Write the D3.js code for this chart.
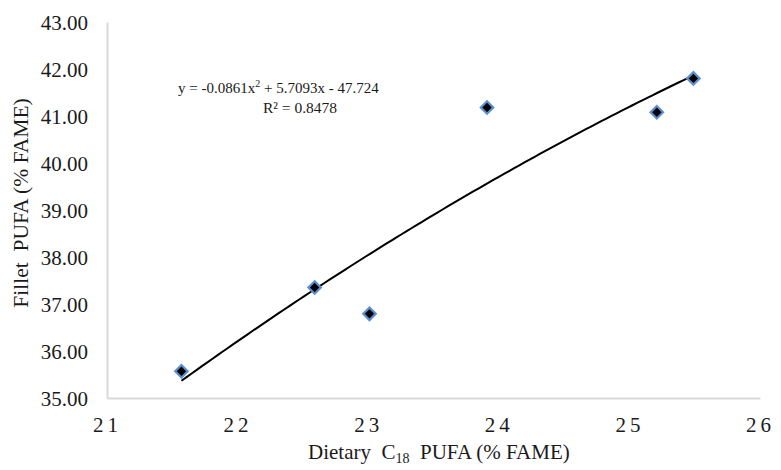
<!DOCTYPE html>
<html>
<head>
<meta charset="utf-8">
<script src="https://cdn.jsdelivr.net/npm/d3@7"></script>
<style>
  html, body { margin: 0; padding: 0; background: #fff; }
  svg { display: block; }
  svg text { font-family: "Liberation Serif", "Times New Roman", Tinos, "DejaVu Serif", serif; fill: #1a1a1a; white-space: pre; }
</style>
</head>
<body>
<svg id="chart" width="781" height="470"></svg>
<script>
// Dietary C18 PUFA vs fillet PUFA (% FAME)
const dietaryC18 = [21.57, 22.59, 23.01, 23.91, 25.21, 25.49];
const filletPUFA = [35.57, 37.35, 36.79, 41.18, 41.08, 41.80];

// Polynomial (order 2) trendline coefficients
const trendA = -0.0861, trendB = 5.7093, trendC = -47.724;
const rSquared = 0.8478;

const xTicks = [21, 22, 23, 24, 25, 26];
const yTicks = [35, 36, 37, 38, 39, 40, 41, 42, 43];

const serif = '"Liberation Serif", "Times New Roman", Tinos, "DejaVu Serif", serif';

const svg = d3.select("#chart").attr("font-family", serif);
const plotLeft = 107, plotRight = 760, plotTop = 22, plotBottom = 398;

const x = d3.scaleLinear().domain([21, 26]).range([plotLeft, plotRight]);
const y = d3.scaleLinear().domain([35, 43]).range([plotBottom, plotTop]);

// Axes: plain light-grey lines, no tick marks
const xAxis = d3.axisBottom(x).tickValues(xTicks).tickSize(0).tickPadding(0).tickFormat(d3.format("d"));
const yAxis = d3.axisLeft(y).tickValues(yTicks).tickSize(0).tickPadding(0).tickFormat(d3.format(".2f"));

const gx = svg.append("g").attr("transform", `translate(0,${plotBottom})`).call(xAxis)
  .attr("font-family", serif);
gx.select(".domain").attr("stroke", "#d9d9d9").attr("stroke-width", 2);
gx.selectAll("text")
  .attr("dy", null).attr("y", 34)
  .attr("font-size", 21).attr("letter-spacing", 4)
  .style("font-family", serif)
  .attr("fill", "#1a1a1a");

const gy = svg.append("g").attr("transform", `translate(${plotLeft},0)`).call(yAxis)
  .attr("font-family", serif);
gy.select(".domain").attr("stroke", "#d9d9d9").attr("stroke-width", 2);
gy.selectAll("text")
  .attr("x", -19).attr("dy", "0.34em")
  .attr("font-size", 21)
  .style("font-family", serif)
  .attr("fill", "#1a1a1a");

// Trendline from the fitted equation, spanning the observed range
const xMin = d3.min(dietaryC18), xMax = d3.max(dietaryC18);
const xs = d3.range(0, 101).map(i => xMin + i / 100 * (xMax - xMin));
const line = d3.line().x(d => x(d)).y(d => y(trendA * d * d + trendB * d + trendC));
svg.append("path")
  .datum(xs)
  .attr("d", line)
  .attr("fill", "none")
  .attr("stroke", "#000")
  .attr("stroke-width", 2);

// Diamond markers
const diamond = d3.symbol().type(d3.symbolSquare).size(78);
svg.append("g").selectAll("path")
  .data(dietaryC18.map((d, i) => [d, filletPUFA[i]]))
  .join("path")
  .attr("d", diamond)
  .attr("transform", d => `translate(${x(d[0])},${y(d[1])}) rotate(45)`)
  .attr("fill", "#000")
  .attr("stroke", "#5b8fd0")
  .attr("stroke-width", 2.2);

// Equation and R² labels
const eq = svg.append("text").attr("x", 178).attr("y", 93).attr("font-size", 15);
eq.append("tspan").text(`y = ${trendA}x`);
eq.append("tspan").attr("dy", -6).attr("font-size", 10).text("2");
eq.append("tspan").attr("dy", 6).text(` + ${trendB}x - ${-trendC}`);

svg.append("text").attr("x", 263).attr("y", 113).attr("font-size", 15.5)
  .text(`R² = ${rSquared}`);

// Axis titles
const xt = svg.append("text").attr("x", 308).attr("y", 459).attr("font-size", 21);
xt.append("tspan").text("Dietary  C");
xt.append("tspan").attr("dy", 4).attr("font-size", 14).text("18");
xt.append("tspan").attr("dy", -4).text("  PUFA (% FAME)");

svg.append("text")
  .attr("transform", `translate(28,203) rotate(-90)`)
  .attr("text-anchor", "middle")
  .attr("font-size", 21.5)
  .text("Fillet  PUFA (% FAME)");
</script>
</body>
</html>
